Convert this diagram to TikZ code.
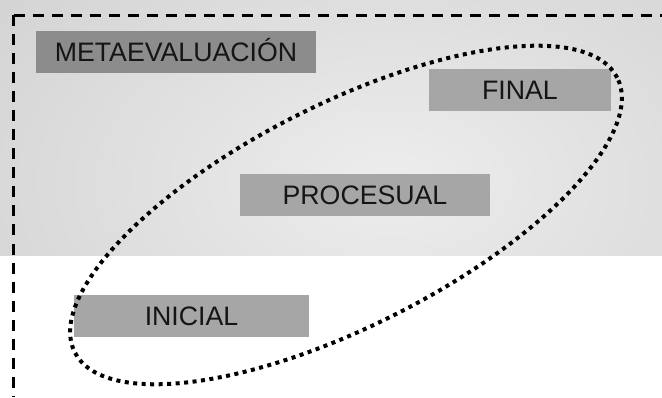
\documentclass[tikz,border=0pt]{standalone}
\usepackage{fontspec}
\setmainfont{Liberation Sans}
\definecolor{bgin}{HTML}{EDEDED}
\definecolor{bgout}{HTML}{C0C0C0}
\definecolor{boxdark}{HTML}{8C8C8C}
\definecolor{boxlight}{HTML}{A6A6A6}
\definecolor{ink}{HTML}{151515}
% soft glow: light centre fading to grey halfway out, grey beyond
\pgfdeclareradialshading{bgglow}{\pgfpoint{0bp}{0bp}}{color(0bp)=(bgin); color(25bp)=(bgout); color(50bp)=(bgout)}
\begin{document}
\begin{tikzpicture}[x=1pt,y=1pt,
  label box/.style={fill=boxlight, draw=none, inner sep=0pt, minimum height=42pt,
    text=ink, font=\fontsize{26.7}{30}\selectfont, text height=19.1pt, text depth=0pt},
  frame line/.style={line width=3.5pt, dash pattern=on 11pt off 8pt},
  phase ring/.style={line width=4pt, dash pattern=on 4pt off 4.5pt}]
  \useasboundingbox (0,0) rectangle (662,397);
  % shaded upper band
  \begin{scope}
    \clip (0,142) rectangle (662,397);
    \shade[shading=bgglow] (390,215) ellipse (860pt and 540pt);
  \end{scope}
  % dashed frame
  \coordinate (corner) at (13.5,381.5);
  \coordinate (frameBottom) at (13.5,0);
  \coordinate (frameRight) at (662,381.5);
  \draw[frame line] (corner) -- (frameBottom);
  \draw[frame line] (corner) -- (frameRight);
  % labels
  \node[label box, fill=boxdark, minimum width=280pt] (meta) at (176,345) {METAEVALUACIÓN};
  \node[label box, minimum width=182pt] (final) at (520,307) {FINAL};
  \node[label box, minimum width=250pt] (proc) at (365,202) {PROCESUAL};
  \node[label box, minimum width=235pt] (ini) at (191.5,81) {INICIAL};
  % dotted ring around the three phases
  \draw[phase ring, rotate around={26.85:(346,182)}] (346,182) ellipse (304pt and 111pt);
\end{tikzpicture}
\end{document}
